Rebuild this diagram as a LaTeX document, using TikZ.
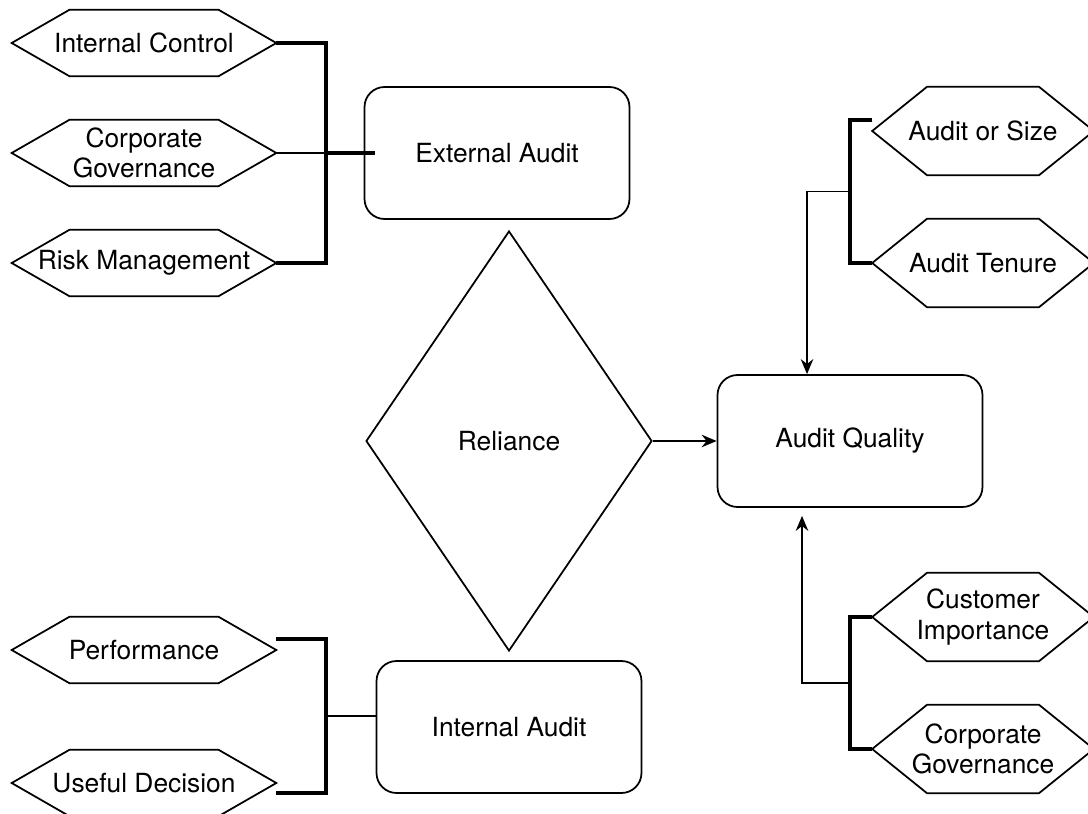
\documentclass[tikz,border=0pt]{standalone}
\usepackage{fontspec}
\setmainfont{TeX Gyre Heros}
\usetikzlibrary{calc,arrows.meta,shapes.geometric}

\tikzset{
  box/.style={draw,rounded corners=0.4cm,minimum width=5.3cm,minimum height=2.64cm,line width=1pt},
  hexl/.style={minimum width=5.28cm,minimum height=1.32cm,inner sep=0pt,align=center},
  hexr/.style={minimum width=4.42cm,minimum height=1.76cm,inner sep=0pt,align=center},
  brace/.style={line width=2.1pt},
  link/.style={line width=1pt},
  tip/.style={-{Stealth[length=0.3cm,width=0.25cm]}},
}

\begin{document}
\begin{tikzpicture}[x=0.02cm,y=-0.02cm,font=\fontsize{15}{17.5}\selectfont]
    \useasboundingbox (0,0) rectangle (1088,814);

    % central boxes and the diamond
    \node[box] (ext) at (497,153) {External Audit};
    \node[box] (int) at (509,727) {Internal Audit};
    \node[box] (aq) at (850,441) {Audit Quality};
    \node[draw,diamond,line width=1pt,minimum width=5.72cm,minimum height=8.4cm,inner sep=0pt] (rel) at (509,441) {Reliance};

    % factors on the left
    \node[hexl] (ic) at (144,43) {Internal Control};
    \node[hexl] (cg) at (144,153) {Corporate\\Governance};
    \node[hexl] (rm) at (144,263) {Risk Management};
    \node[hexl] (perf) at (144,650) {Performance};
    \node[hexl] (ud) at (144,783) {Useful Decision};

    % factors on the right
    \node[hexr] (size) at (983,131) {Audit or Size};
    \node[hexr] (tenure) at (983,263) {Audit Tenure};
    \node[hexr] (cust) at (983,617) {Customer\\Importance};
    \node[hexr] (gov) at (983,749) {Corporate\\Governance};

    % hexagon outlines, \s is the slant
    \foreach \n/\s in {ic/58,cg/58,rm/58,perf/58,ud/58,size/55,tenure/55,cust/55,gov/55}{
      \draw[link] (\n.west) -- ($(\n.north west)+(\s,0)$) -- ($(\n.north east)+(-\s,0)$)
        -- (\n.east) -- ($(\n.south east)+(-\s,0)$) -- ($(\n.south west)+(\s,0)$) -- cycle;
    }

    % brackets on the left
    \draw[brace] (ic.east) -- ++(50,0) coordinate (kt) |- (rm.east);
    \draw[link] (cg.east) -- (cg.east -| kt);
    \draw[brace] (cg.east -| kt) -- ($(ext.west)+(11,0)$);

    \draw[brace] ($(perf.east)+(0,-11)$) -- ++(50,0) coordinate (kb) |- ($(ud.east)+(0,10)$);
    \coordinate (im) at ($(int.west)+(0,-11)$);
    \draw[line width=1.6pt] (im -| kb) -- (im);

    % brackets on the right
    \draw[brace] ($(size.west)+(0,-11)$) -- ++(-22,0) coordinate (kr) |- (tenure.west);
    \coordinate (kr2) at ($(kr)!.5!(kr |- tenure.west)$);
    \draw[link,tip] (kr2) -| ($(aq.north)+(-43,0)$);

    \draw[brace] (cust.west) -- ++(-22,0) coordinate (ks) |- (gov.west);
    \coordinate (ks2) at ($(ks)!.5!(ks |- gov.west)$);
    \draw[link,tip] (ks2) -| ($(aq.south)+(-48,8)$);

    \draw[link,tip] (rel.east) -- (aq.west);

\end{tikzpicture}
\end{document}
